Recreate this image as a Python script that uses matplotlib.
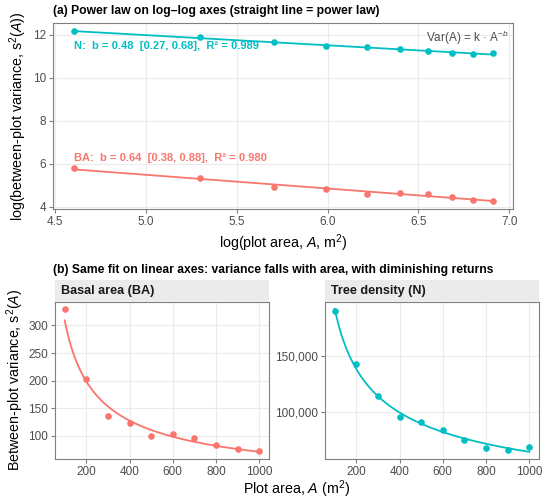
import numpy as np
import matplotlib
matplotlib.use("Agg")
import matplotlib.pyplot as plt
from matplotlib.ticker import MultipleLocator, StrMethodFormatter

# plot areas (m2) and between-plot variances
area = np.array([100, 200, 300, 400, 500, 600, 700, 800, 900, 1000])
var_ba = np.array([330, 203, 136, 123, 100, 103, 97, 84, 76, 72])
var_n = np.array([190000, 143000, 114000, 95000, 91000, 84000, 75000, 68000, 66000, 69000])

lab_ba = "BA:  b = 0.64  [0.38, 0.88],  R² = 0.980"
lab_n = "N:  b = 0.48  [0.27, 0.68],  R² = 0.989"

col_ba = "#F8766D"
col_n = "#00BFC4"
tick_col = "#4D4D4D"
grid_col = "#EBEBEB"
edge_col = "#7F7F7F"

plt.rcParams['font.family'] = ['Liberation Sans', 'DejaVu Sans']
plt.rcParams['mathtext.fontset'] = 'custom'
plt.rcParams['mathtext.rm'] = 'Liberation Sans'
plt.rcParams['mathtext.it'] = 'Liberation Sans:italic'

LAB = 10.3  # axis title size


def style_ax(ax):
    ax.set_facecolor("white")
    ax.grid(True, color=grid_col, lw=0.8)
    ax.set_axisbelow(True)
    for s in ax.spines.values():
        s.set_color(edge_col)
        s.set_linewidth(0.8)
    ax.tick_params(colors=edge_col, labelcolor=tick_col, labelsize=8.5, length=3, pad=2)


fig = plt.figure(figsize=(5.5, 5.0), dpi=100)

# ---- (a) log-log panel
ax = fig.add_axes([53/550, 1-209/500, 460/550, 186/500])
style_ax(ax)
la = np.log(area)
for v, c in [(var_n, col_n), (var_ba, col_ba)]:
    lv = np.log(v)
    p = np.polyfit(la, lv, 1)
    ax.plot(la, np.polyval(p, la), color=c, lw=1.3)
    ax.scatter(la, lv, color=c, s=14, zorder=3)
ax.text(la[0], 11.49, lab_n, color=col_n, fontsize=8, fontweight="bold", va="center", ha="left")
ax.text(la[0], 6.24, lab_ba, color=col_ba, fontsize=8, fontweight="bold", va="center", ha="left")
ax.text(6.995, 11.85, "Var(A) = k · A$^{-b}$", color=tick_col, fontsize=8.5, ha="right", va="center")
ax.set_xticks([4.5, 5.0, 5.5, 6.0, 6.5, 7.0])
ax.set_yticks([4, 6, 8, 10, 12])
ax.set_xlim(4.49, 7.02)
ax.set_ylim(3.89, 12.54)
ax.set_xlabel("log(plot area, $\\mathit{A}$, m$^2$)", fontsize=LAB, labelpad=3)
ax.set_ylabel("log(between-plot variance, s$^2$($\\mathit{A}$))", fontsize=LAB, labelpad=3)
fig.text(53/550, 1-11/500, "(a) Power law on log–log axes (straight line = power law)",
         fontsize=8.7, fontweight="bold", va="center", ha="left")

# ---- (b) linear panels
fig.text(53/550, 1-270/500, "(b) Same fit on linear axes: variance falls with area, with diminishing returns",
         fontsize=8.7, fontweight="bold", va="center", ha="left")

aa = np.linspace(100, 1000, 200)
panels = [(55, var_ba, col_ba, "Basal area (BA)"), (325, var_n, col_n, "Tree density (N)")]
axes_b = []
for left, v, c, title in panels:
    axb = fig.add_axes([left/550, 1-459/500, 214/550, 157.3/500])
    style_ax(axb)
    p = np.polyfit(np.log(area), np.log(v), 1)
    axb.plot(aa, np.exp(np.polyval(p, np.log(aa))), color=c, lw=1.3)
    axb.scatter(area, v, color=c, s=14, zorder=3)
    axb.set_xticks([200, 400, 600, 800, 1000])
    axb.margins(x=0.05, y=0.05)
    st = fig.add_axes([left/550, 1-301.7/500, 214/550, 21.7/500])
    st.set_facecolor("#EBEBEB")
    st.set_xticks([])
    st.set_yticks([])
    for s in st.spines.values():
        s.set_visible(False)
    st.text(0.03, 0.5, title, fontsize=9.1, fontweight="bold", va="center", ha="left",
            color="#1A1A1A", transform=st.transAxes)
    axes_b.append(axb)

axes_b[0].yaxis.set_major_locator(MultipleLocator(50))
axes_b[1].yaxis.set_major_locator(MultipleLocator(50000))
axes_b[1].yaxis.set_major_formatter(StrMethodFormatter("{x:,.0f}"))

fig.text(297/550, 1-489/500, "Plot area, $\\mathit{A}$ (m$^2$)", fontsize=LAB, ha="center", va="center")
fig.text(15/550, 1-380/500, "Between-plot variance, s$^2$($\\mathit{A}$)", fontsize=LAB,
         ha="center", va="center", rotation=90)

fig.savefig("out.png", dpi=100)
